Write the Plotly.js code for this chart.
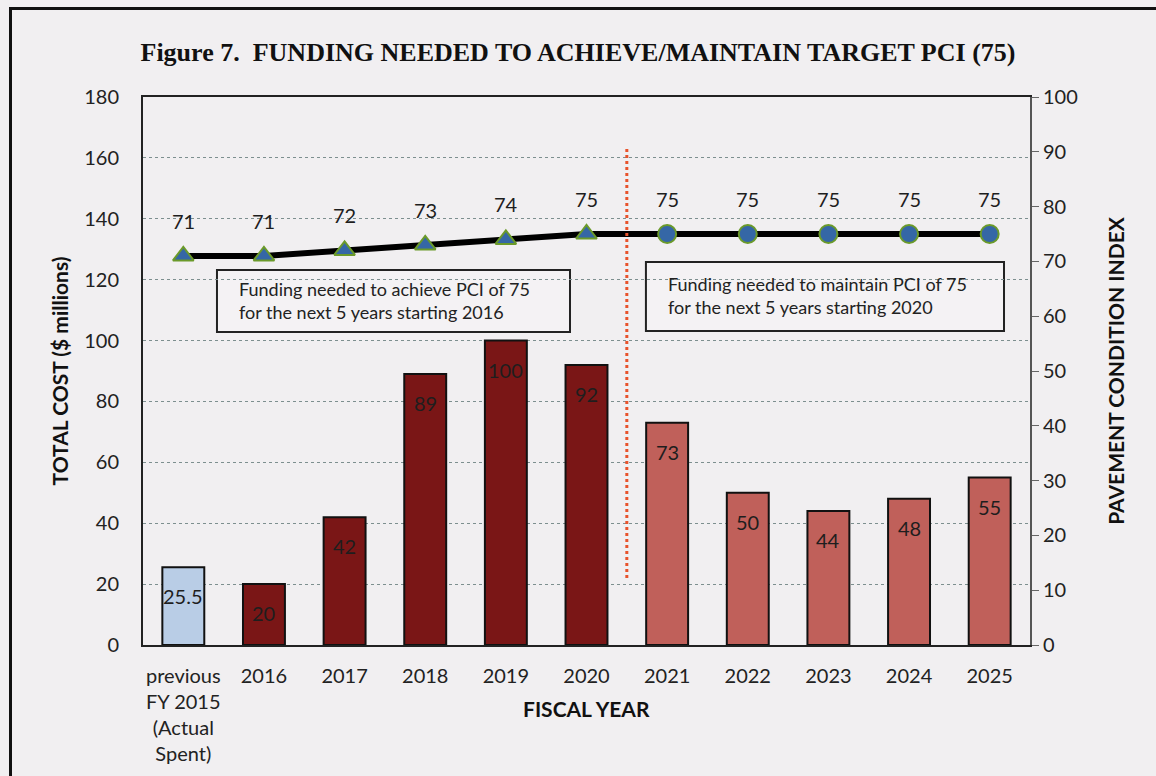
<!DOCTYPE html>
<html>
<head>
<meta charset="utf-8">
<script src="https://cdn.plot.ly/plotly-3.0.1.min.js"></script>
<style>
html,body{margin:0;padding:0;background:#f1eff1;}
#wrap{position:relative;width:1156px;height:776px;}
#chart{width:1156px;height:776px;}
#frame{position:absolute;left:9px;top:7px;width:1160px;height:800px;border:3px solid #111;pointer-events:none;}
</style>
</head>
<body>
<div id="wrap"><div id="chart"></div><div id="frame"></div></div>
<script>
const categories = ["previous<br>FY 2015<br>(Actual<br>Spent)", "2016", "2017", "2018", "2019", "2020", "2021", "2022", "2023", "2024", "2025"];
const costLabels = ["25.5", "20", "42", "89", "100", "92", "73", "50", "44", "48", "55"];
const costValues = [25.5, 20, 42, 89, 100, 92, 73, 50, 44, 48, 55];
const pciValues = [71, 71, 72, 73, 74, 75, 75, 75, 75, 75, 75];
const barColors = ["#b9cde6", "#7a1616", "#7a1616", "#7a1616", "#7a1616", "#7a1616", "#c0605a", "#c0605a", "#c0605a", "#c0605a", "#c0605a"];
const markerSymbols = ["triangle-up", "triangle-up", "triangle-up", "triangle-up", "triangle-up", "triangle-up", "circle", "circle", "circle", "circle", "circle"];
const boxTexts = ["Funding needed to achieve PCI of 75<br>for the next 5 years starting 2016", "Funding needed to maintain PCI of 75<br>for the next 5 years starting 2020"];

const font = "Lato, 'Open Sans', sans-serif";

const bars = {
  type: 'bar', x: categories, y: costValues, yaxis: 'y',
  marker: {color: barColors, line: {color: '#111', width: 2}},
  width: 0.52, hoverinfo: 'skip', showlegend: false
};
const pciLine = {
  type: 'scatter', mode: 'lines', x: categories, y: pciValues, yaxis: 'y2',
  line: {color: '#000', width: 6},
  showlegend: false, hoverinfo: 'skip'
};
const pciMarkers = {
  type: 'scatter', mode: 'markers', x: categories, y: pciValues, yaxis: 'y2',
  marker: {symbol: markerSymbols, size: 18, color: '#3567a6', opacity: 1, line: {color: '#6b9a2a', width: 2}},
  showlegend: false, hoverinfo: 'skip'
};

const annotations = [];
categories.forEach((c, i) => {
  annotations.push({x: i, y: costValues[i], xref: 'x', yref: 'y', text: costLabels[i], showarrow: false,
    yshift: -29, font: {family: font, size: 20, color: '#1e1e1e'}});
  annotations.push({x: i, y: pciValues[i], xref: 'x', yref: 'y2', text: String(pciValues[i]), showarrow: false,
    yshift: 35, font: {family: font, size: 20, color: '#1e1e1e'}});
});
annotations.push({xref: 'paper', yref: 'paper', x: 0.106, y: 0.628, xanchor: 'left', yanchor: 'middle',
  text: boxTexts[0], showarrow: false, align: 'left',
  font: {family: font, size: 18, color: '#222'}});
annotations.push({xref: 'paper', yref: 'paper', x: 0.5896, y: 0.637, xanchor: 'left', yanchor: 'middle',
  text: boxTexts[1], showarrow: false, align: 'left',
  font: {family: font, size: 18, color: '#222'}});
annotations.push({xref: 'paper', yref: 'paper', x: 0.5, y: -0.115, xanchor: 'center', yanchor: 'middle',
  text: '<b>FISCAL YEAR</b>', showarrow: false, font: {family: font, size: 21, color: '#111'}});

const layout = {
  width: 1156, height: 776,
  paper_bgcolor: '#f1eff1', plot_bgcolor: '#f1eff1',
  margin: {l: 143, r: 126, t: 97, b: 131},
  title: {text: '<b>Figure 7.  FUNDING NEEDED TO ACHIEVE/MAINTAIN TARGET PCI (75)</b>',
    font: {family: "'Liberation Serif', 'Times New Roman', serif", size: 26, color: '#111'},
    x: 0.5, xanchor: 'center', y: 0.933, yanchor: 'middle'},
  xaxis: {
    type: 'category', range: [-0.5, 10.5], autorange: false,
    showline: true, linecolor: '#222', linewidth: 2, mirror: true,
    ticks: '', tickfont: {family: font, size: 20, color: '#222'}, ticklabelstandoff: 12,
    showgrid: false, zeroline: false
  },
  yaxis: {
    range: [0, 180], autorange: false, dtick: 20, showline: true, linecolor: '#222', linewidth: 2,
    ticks: '', tickfont: {family: font, size: 20, color: '#222'}, ticklabelstandoff: 18,
    showgrid: true, gridcolor: '#7d8f8f', griddash: 'dot', gridwidth: 1, zeroline: false,
    title: {text: '<b>TOTAL COST ($ millions)</b>', font: {family: font, size: 21, color: '#111'}, standoff: 10}
  },
  yaxis2: {
    range: [0, 100], autorange: false, dtick: 10, overlaying: 'y', side: 'right', showline: true, linecolor: '#555', linewidth: 2,
    ticks: 'outside', ticklen: 7, tickcolor: '#666', tickwidth: 1, tickfont: {family: font, size: 20, color: '#222'},
    showgrid: false, zeroline: false,
    title: {text: '<b>PAVEMENT CONDITION INDEX</b>', font: {family: font, size: 21, color: '#111'}, standoff: 32}
  },
  shapes: [
    {type: 'rect', xref: 'paper', yref: 'paper', x0: 0.0834, x1: 0.4814, y0: 0.5712, y1: 0.6843, layer: 'between',
      fillcolor: '#f4f2f4', line: {color: '#222', width: 2}},
    {type: 'rect', xref: 'paper', yref: 'paper', x0: 0.567, x1: 0.9707, y0: 0.573, y1: 0.699, layer: 'between',
      fillcolor: '#f4f2f4', line: {color: '#222', width: 2}},
    {type: 'line', xref: 'x', yref: 'y', x0: 5.5, x1: 5.5, y0: 22, y1: 163,
      line: {color: '#e8532c', width: 3, dash: 'dot'}}
  ],
  annotations: annotations
};

Plotly.newPlot('chart', [bars, pciLine, pciMarkers], layout, {displayModeBar: false, staticPlot: true});
</script>
</body>
</html>
